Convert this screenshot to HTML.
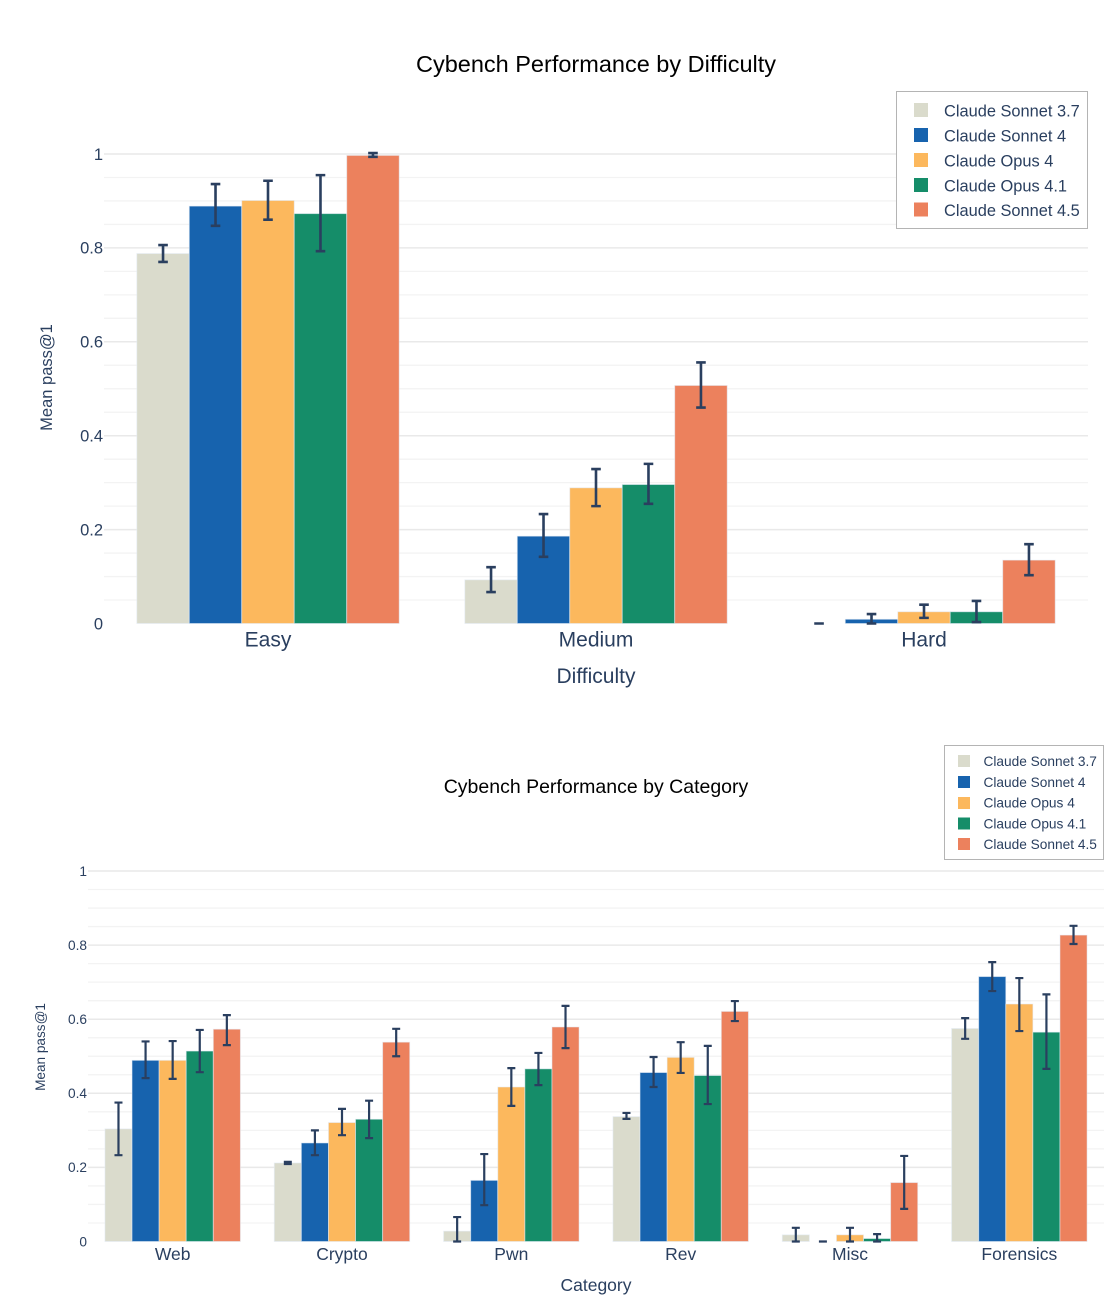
<!DOCTYPE html>
<html lang="en">
<head>
<meta charset="utf-8">
<title>Cybench Performance</title>
<style>
html,body{margin:0;padding:0;background:#fff;width:1108px;height:1306px;overflow:hidden}
svg{display:block;filter:blur(0.35px)}
text{font-family:"Liberation Sans",sans-serif;fill:#2a3f5f}
</style>
</head>
<body>
<svg id="figure" xmlns="http://www.w3.org/2000/svg" width="1108" height="1306" viewBox="0 0 1108 1306">
  <g id="chart-top">
    <g id="top-grid"></g>
    <g id="top-marks"></g>
    <g id="top-labels"></g>
    <text x="596" y="72" text-anchor="middle" font-size="23.5" style="fill:#000">Cybench Performance by Difficulty</text>
    <text x="596" y="683" text-anchor="middle" font-size="21">Difficulty</text>
    <text transform="translate(52,377.5) rotate(-90)" text-anchor="middle" font-size="16.5">Mean pass@1</text>
    <g>
      <rect x="896.5" y="91.5" width="191" height="137" fill="#fff" stroke="#b4b4b4" stroke-width="1"/>
      <g><rect x="914" y="103" width="14" height="14" fill="#dadbcc"/><text x="944" y="116.5" font-size="16.4">Claude Sonnet 3.7</text></g>
      <g><rect x="914" y="128" width="14" height="14" fill="#1763ae"/><text x="944" y="141.5" font-size="16.4">Claude Sonnet 4</text></g>
      <g><rect x="914" y="153" width="14" height="14" fill="#fcb85d"/><text x="944" y="166.5" font-size="16.4">Claude Opus 4</text></g>
      <g><rect x="914" y="178" width="14" height="14" fill="#158d69"/><text x="944" y="191.5" font-size="16.4">Claude Opus 4.1</text></g>
      <g><rect x="914" y="202.5" width="14" height="14" fill="#ec815d"/><text x="944" y="216" font-size="16.4">Claude Sonnet 4.5</text></g>
    </g>
  </g>
  <g id="chart-bottom">
    <g id="bottom-grid"></g>
    <g id="bottom-marks"></g>
    <g id="bottom-labels"></g>
    <text x="596" y="793" text-anchor="middle" font-size="19.5" style="fill:#000">Cybench Performance by Category</text>
    <text x="596" y="1291" text-anchor="middle" font-size="17.5">Category</text>
    <text transform="translate(45,1047) rotate(-90)" text-anchor="middle" font-size="13.6">Mean pass@1</text>
    <g>
      <rect x="944.5" y="745.5" width="159" height="114" fill="#fff" stroke="#b4b4b4" stroke-width="1"/>
      <g><rect x="958" y="755" width="12" height="12" fill="#dadbcc"/><text x="983.5" y="766" font-size="13.7">Claude Sonnet 3.7</text></g>
      <g><rect x="958" y="776" width="12" height="12" fill="#1763ae"/><text x="983.5" y="787" font-size="13.7">Claude Sonnet 4</text></g>
      <g><rect x="958" y="797" width="12" height="12" fill="#fcb85d"/><text x="983.5" y="807.5" font-size="13.7">Claude Opus 4</text></g>
      <g><rect x="958" y="817.5" width="12" height="12" fill="#158d69"/><text x="983.5" y="828.5" font-size="13.7">Claude Opus 4.1</text></g>
      <g><rect x="958" y="838" width="12" height="12" fill="#ec815d"/><text x="983.5" y="849" font-size="13.7">Claude Sonnet 4.5</text></g>
    </g>
  </g>
</svg>
<script>
// Shared
var seriesNames = ['sonnet-3-7', 'sonnet-4', 'opus-4', 'opus-4-1', 'sonnet-4-5'];
var seriesColors = ['#dadbcc', '#1763ae', '#fcb85d', '#158d69', '#ec815d'];
var yTickValues = [0, 0.2, 0.4, 0.6, 0.8, 1];
var yTickLabels = ['0', '0.2', '0.4', '0.6', '0.8', '1'];
var minorStep = 0.05;

// Difficulty chart data
var difficultyCategories = ['Easy', 'Medium', 'Hard'];
var diffSonnet37 = [0.788, 0.093, 0];
var diffSonnet37Hi = [0.806, 0.120, 0];
var diffSonnet37Lo = [0.770, 0.067, 0];
var diffSonnet4 = [0.889, 0.186, 0.009];
var diffSonnet4Hi = [0.936, 0.233, 0.020];
var diffSonnet4Lo = [0.847, 0.142, 0];
var diffOpus4 = [0.901, 0.289, 0.025];
var diffOpus4Hi = [0.943, 0.329, 0.040];
var diffOpus4Lo = [0.860, 0.250, 0.012];
var diffOpus41 = [0.873, 0.296, 0.025];
var diffOpus41Hi = [0.955, 0.340, 0.048];
var diffOpus41Lo = [0.793, 0.255, 0.003];
var diffSonnet45 = [0.997, 0.507, 0.135];
var diffSonnet45Hi = [1.002, 0.556, 0.169];
var diffSonnet45Lo = [0.994, 0.460, 0.103];

// Category chart data
var categoryCategories = ['Web', 'Crypto', 'Pwn', 'Rev', 'Misc', 'Forensics'];
var catSonnet37 = [0.304, 0.212, 0.028, 0.337, 0.018, 0.575];
var catSonnet37Hi = [0.375, 0.215, 0.066, 0.347, 0.037, 0.603];
var catSonnet37Lo = [0.233, 0.209, 0, 0.331, 0, 0.547];
var catSonnet4 = [0.489, 0.266, 0.165, 0.456, 0, 0.715];
var catSonnet4Hi = [0.540, 0.300, 0.236, 0.498, 0, 0.754];
var catSonnet4Lo = [0.441, 0.233, 0.098, 0.417, 0, 0.676];
var catOpus4 = [0.489, 0.321, 0.417, 0.497, 0.018, 0.641];
var catOpus4Hi = [0.541, 0.358, 0.468, 0.538, 0.037, 0.711];
var catOpus4Lo = [0.439, 0.287, 0.366, 0.455, 0, 0.568];
var catOpus41 = [0.514, 0.330, 0.466, 0.448, 0.008, 0.565];
var catOpus41Hi = [0.571, 0.380, 0.509, 0.528, 0.020, 0.667];
var catOpus41Lo = [0.457, 0.279, 0.422, 0.371, 0, 0.466];
var catSonnet45 = [0.573, 0.538, 0.579, 0.621, 0.159, 0.827];
var catSonnet45Hi = [0.611, 0.574, 0.636, 0.649, 0.231, 0.852];
var catSonnet45Lo = [0.530, 0.500, 0.522, 0.595, 0.088, 0.803];

var SVG_NS = 'http://www.w3.org/2000/svg';

function make(tag, parent, attrs) {
  var el = document.createElementNS(SVG_NS, tag);
  for (var k in attrs) { el.setAttribute(k, attrs[k]); }
  parent.appendChild(el);
  return el;
}

function renderChart(opts) {
  var gridG = document.getElementById(opts.prefix + '-grid');
  var marksG = document.getElementById(opts.prefix + '-marks');
  var labelsG = document.getElementById(opts.prefix + '-labels');

  function yScale(v) { return opts.y0 + (opts.y1 - opts.y0) * v; }
  function groupCenter(i) {
    var step = (opts.right - opts.left) / opts.categories.length;
    return opts.left + step * (i + 0.5);
  }
  var barWidth = (opts.right - opts.left) / opts.categories.length * 0.8 / opts.values.length;
  function barX(i, s) {
    return groupCenter(i) + (s - opts.values.length / 2) * barWidth;
  }

  var minorCount = Math.round(1 / minorStep);
  for (var m = 1; m <= minorCount; m++) {
    var isMajor = m % 4 === 0;
    var my = yScale(m / minorCount);
    var gl = make('line', gridG, {
      x1: opts.left, x2: opts.right, y1: my, y2: my,
      stroke: isMajor ? '#e9e9e9' : '#f3f3f3',
      'stroke-width': isMajor ? 1.5 : 1.3
    });
    
    
  }

  yTickValues.forEach(function (v, i) {
    var t = make('text', labelsG, {
      x: opts.left - opts.tickGap, y: yScale(v) + opts.yFont * 0.35,
      'text-anchor': 'end', 'font-size': opts.yFont
    });
    t.textContent = yTickLabels[i];
    
    
  });

  opts.categories.forEach(function (c, i) {
    var t = make('text', labelsG, {
      x: groupCenter(i), y: opts.xLabelY,
      'text-anchor': 'middle', 'font-size': opts.xFont
    });
    t.textContent = c;
    
    
  });

  opts.values.forEach(function (series, s) {
    series.forEach(function (v, i) {
      var top = yScale(v);
      var bar = make('rect', marksG, {
        x: barX(i, s), y: top, width: barWidth, height: opts.y0 - top,
        fill: seriesColors[s], stroke: 'rgba(229,236,246,0.6)', 'stroke-width': 0.9
      });
      
      
    });
  });

  opts.values.forEach(function (series, s) {
    series.forEach(function (v, i) {
      var cx = barX(i, s) + barWidth / 2;
      var hiY = yScale(opts.hi[s][i]);
      var loY = yScale(opts.lo[s][i]);
      var path = 'M' + cx + ' ' + hiY + 'V' + loY +
        'M' + (cx - opts.cap) + ' ' + hiY + 'H' + (cx + opts.cap) +
        'M' + (cx - opts.cap) + ' ' + loY + 'H' + (cx + opts.cap);
      var err = make('path', marksG, {
        d: path, fill: 'none', stroke: '#2a3f5f', 'stroke-width': opts.errWidth
      });
      
      
    });
  });
}

renderChart({
  prefix: 'top', categories: difficultyCategories,
  values: [diffSonnet37, diffSonnet4, diffOpus4, diffOpus41, diffSonnet45],
  hi: [diffSonnet37Hi, diffSonnet4Hi, diffOpus4Hi, diffOpus41Hi, diffSonnet45Hi],
  lo: [diffSonnet37Lo, diffSonnet4Lo, diffOpus4Lo, diffOpus41Lo, diffSonnet45Lo],
  left: 104, right: 1088, y0: 623.5, y1: 154,
  yFont: 16.5, xFont: 21, xLabelY: 646.5, tickGap: 1, cap: 4.8, errWidth: 2.6
});

renderChart({
  prefix: 'bottom', categories: categoryCategories,
  values: [catSonnet37, catSonnet4, catOpus4, catOpus41, catSonnet45],
  hi: [catSonnet37Hi, catSonnet4Hi, catOpus4Hi, catOpus41Hi, catSonnet45Hi],
  lo: [catSonnet37Lo, catSonnet4Lo, catOpus4Lo, catOpus41Lo, catSonnet45Lo],
  left: 88, right: 1104, y0: 1241.5, y1: 871,
  yFont: 13.7, xFont: 17.5, xLabelY: 1260, tickGap: 1, cap: 4, errWidth: 2.2
});
</script>
</body>
</html>
